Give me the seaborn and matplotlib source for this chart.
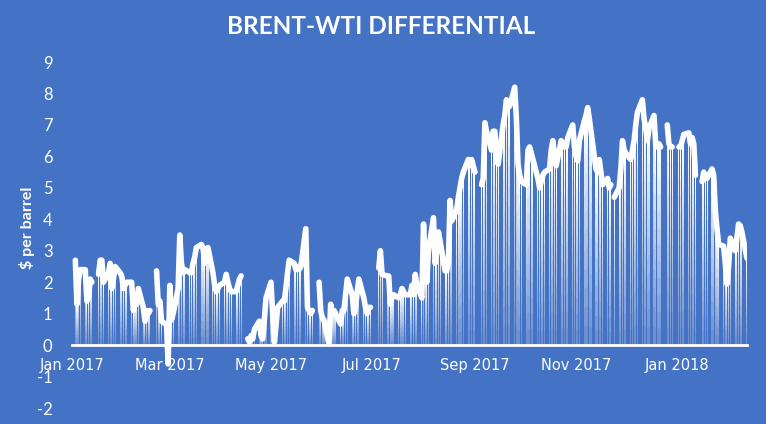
""" Brent-WTI differential, daily, Jan 2017 - Feb 2018 """

import pandas as pd
import numpy as np
import matplotlib.pyplot as plt
import matplotlib.dates as mdates
import seaborn as sns

nan = np.nan

# daily spread values ($/barrel), one per business day, NaN on market holidays
months = ['2017-01', '2017-02', '2017-03', '2017-04', '2017-05', '2017-06', '2017-07',
          '2017-08', '2017-09', '2017-10', '2017-11', '2017-12', '2018-01', '2018-02']
jan17 = [nan, 2.7, 1.3, 2.1, 2.4, 2.4, 1.4, 1.5, 2.1, 2.0, nan, 2.25, 2.7, 2.7, 2.0,
         2.3, 2.6, 1.8, 2.1, 2.5, 2.3, 2.2]
feb17 = [1.8, 1.9, 2.0, 2.0, 1.1, 1.4, 1.3, 1.8, 1.2, 0.76, 1.1, 1.0, 1.1, nan, 2.36,
         1.3, 1.4, 0.76, 0.65, -0.6]
mar17 = [1.9, 0.8, 1.0, 1.8, 3.5, 2.6, 2.3, 2.4, 2.3, 2.3, 2.6, 2.8, 3.1, 3.2, 3.1,
         2.6, 2.9, 3.1, 2.3, 1.9, 1.7, 1.8, 1.9]
apr17 = [2.0, 2.25, 2.0, 1.8, 1.7, 1.7, 1.9, 2.1, 2.2, nan, 0.2, 0.1, 0.3, 0.2, 0.5,
         0.76, 0.3, 0.2, 0.8, 1.5]
may17 = [2.0, 1.0, 0.1, 0.6, 1.2, 1.4, 1.4, 1.8, 2.3, 2.7, 2.6, 2.4, 2.5, 2.4, 2.5,
         3.7, 1.2, 1.1, 1.0, 1.1, nan, 2.0, 1.1]
jun17 = [0.86, 0.8, 0.03, 1.3, 1.0, 1.1, 1.0, 0.67, 1.1, 1.1, 1.6, 2.1, 1.6, 1.0, 1.2,
         1.7, 2.1, 1.5, 1.2, 1.0, 1.2, 1.2]
jul17 = [nan, nan, 2.45, 3.0, 2.25, 2.2, 2.2, 1.3, 1.5, 1.6, 1.5, 1.6, 1.8, 1.7, 1.6,
         1.6, 1.9, 1.6, 2.25, 1.9, 1.5]
aug17 = [3.85, 2.6, 2.0, 3.0, 4.05, 2.6, 3.0, 3.6, 3.3, 2.36, 2.36, 2.6, 4.6, 3.95,
         4.3, 4.7, 5.0, 5.3, 5.5, 5.9, 5.7, 5.9, 5.7]
sep17 = [5.5, nan, 5.1, 5.3, 7.07, 6.8, 6.2, 6.8, 6.8, 6.0, 5.75, 7.0, 7.3, 7.8, 7.55,
         7.6, 8.2, 7.2, 5.75, 5.4, 5.2]
oct17 = [5.1, 6.2, 6.3, 6.1, 5.9, 5.3, 5.0, 5.2, 5.4, 5.5, 5.6, 6.2, 6.5, 6.0, 5.7,
         6.5, 6.4, 6.3, 6.3, 6.6, 7.0, 6.3]
nov17 = [6.0, 5.86, 6.5, 7.13, 7.3, 7.55, 7.2, 6.8, 5.6, 5.5, 5.9, 5.5, 5.1, 5.3, 5.0,
         5.1, nan, 4.7, 5.0, 5.6, 6.5, 6.2]
dec17 = [6.1, 5.9, 6.2, 6.5, 7.0, 7.4, 7.8, 7.2, 6.9, 6.5, 6.9, 7.3, 6.4, 6.3, 6.4,
         6.3, nan, 7.0, 6.4, 6.3, 6.3]
jan18 = [nan, 6.3, 6.3, 6.5, 6.7, 6.75, 6.4, 6.6, 6.4, 5.4, nan, 5.2, 5.5, 5.3, 5.3,
         5.6, 5.4, 4.27, 3.7, 3.2, 3.15, 2.6, 1.94]
feb18 = [2.5, 3.4, 3.0, 3.4, 3.85, 3.8, 3.6, 2.77]
last_day = '2018-02-12'

series = [jan17, feb17, mar17, apr17, may17, jun17, jul17, aug17, sep17, oct17,
          nov17, dec17, jan18, feb18]
dates = []
for m in months:
    start = pd.Timestamp(m + '-01')
    end = min(start + pd.offsets.MonthEnd(0), pd.Timestamp(last_day))
    dates.extend(pd.bdate_range(start, end))
vals = [v for s in series for v in s]
df = pd.DataFrame({'date': dates, 'spread': vals})

bg = '#4472C4'
sns.set_style('white')
plt.rcParams['font.family'] = ['Lato', 'DejaVu Sans']
plt.rcParams['axes.unicode_minus'] = False

fig = plt.figure(figsize=(7.66, 4.24), dpi=100, facecolor=bg)
ax = fig.add_axes([0.094, 0.0377, 0.881, 0.816], facecolor=bg)

# thin drop bars, faded towards the bottom
bars = df.dropna()
n = 12
for k in range(n):
    ax.bar(bars['date'], bars['spread'] / n, bottom=bars['spread'] * k / n, width=0.65,
           color='white', alpha=0.15 + 0.85 * (k + 1) / n, linewidth=0, zorder=2)

ax.plot(df['date'], df['spread'], color='white', linewidth=4,
        solid_capstyle='round', solid_joinstyle='round', zorder=3)

ax.set_ylim(-2, 9)
ax.set_yticks(range(-2, 10))
ax.set_xlim(pd.Timestamp('2017-01-01'), pd.Timestamp('2018-02-12'))
ax.xaxis.set_major_locator(mdates.MonthLocator(bymonth=[1, 3, 5, 7, 9, 11]))
ax.xaxis.set_major_formatter(mdates.DateFormatter('%b %Y'))

for s in ['left', 'right', 'top']:
    ax.spines[s].set_visible(False)
ax.spines['bottom'].set_position(('data', 0))
ax.spines['bottom'].set_color('white')
ax.spines['bottom'].set_linewidth(2)
ax.spines['bottom'].set_zorder(4)

ax.tick_params(axis='y', length=0, pad=14, colors='white', labelsize=12)
ax.tick_params(axis='x', length=0, pad=9, colors='white')
for lab in ax.get_xticklabels():
    lab.set_family('DejaVu Sans')
    lab.set_fontsize(10.5)
ax.set_xlabel('')
ax.set_ylabel('')

fig.text(0.497, 1 - 26 / 424, 'BRENT-WTI DIFFERENTIAL', color='white', fontsize=17.5,
         fontweight='bold', ha='center', va='center')
fig.text(27 / 766, 1 - 228 / 424, '$ per barrel', color='white', fontsize=11.5,
         fontweight='bold', rotation=90, ha='center', va='center')

fig.savefig('out.png', dpi=100, facecolor=bg)
